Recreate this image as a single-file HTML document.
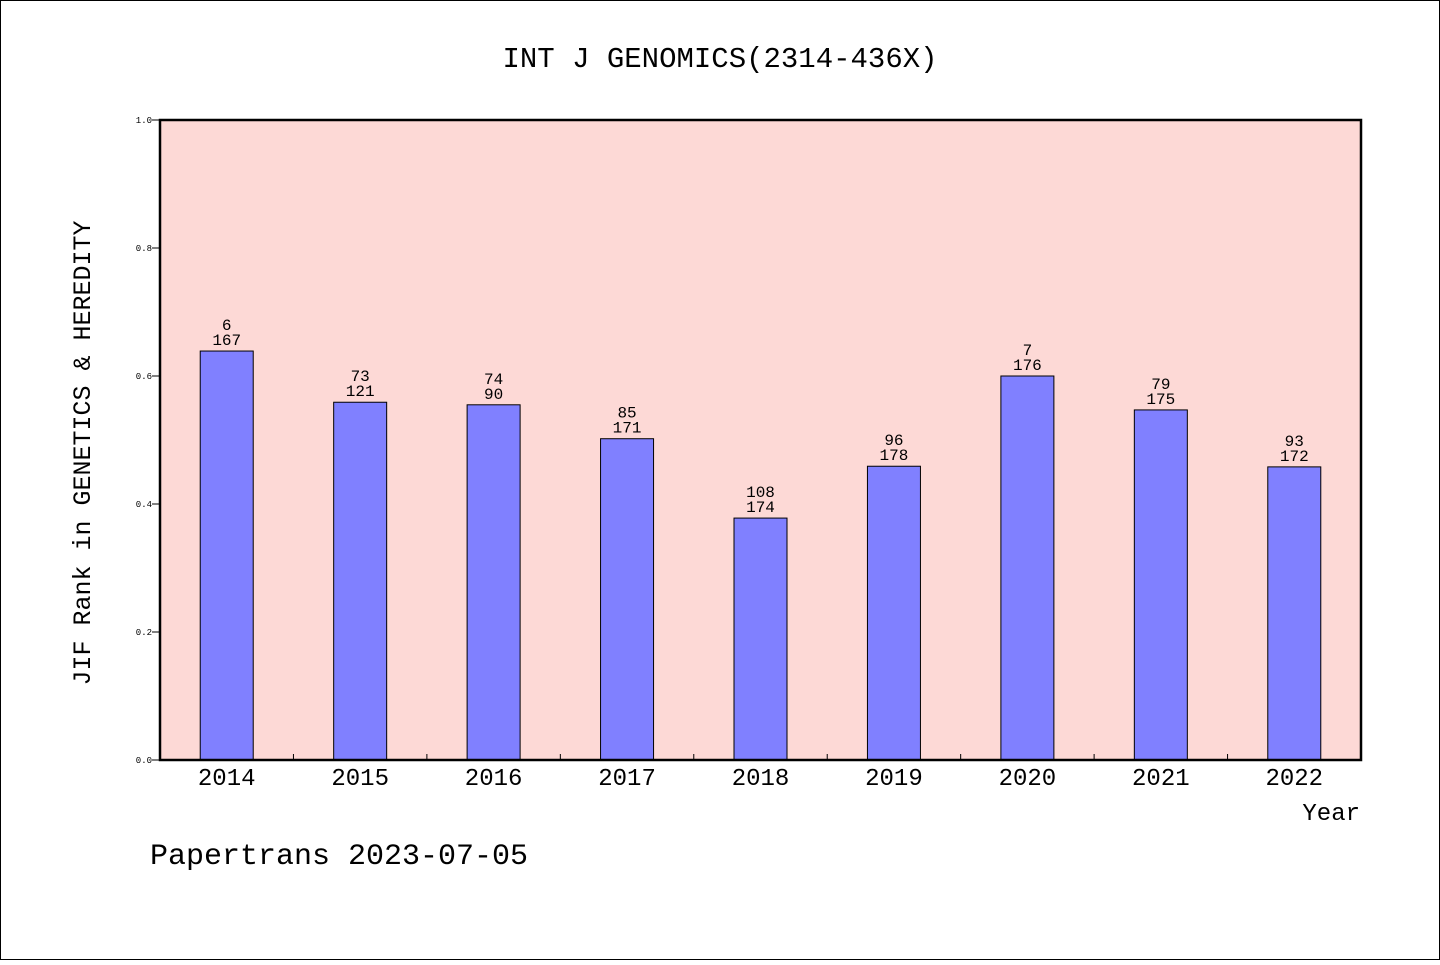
<!DOCTYPE html>
<html><head><meta charset="utf-8"><style>
body{margin:0;background:#fff}
svg text{font-family:"Liberation Mono","Noto Sans CJK SC",monospace;fill:#000}
</style></head><body>
<svg width="1440" height="960" xmlns="http://www.w3.org/2000/svg">
<rect x="0.5" y="0.5" width="1439" height="959" fill="#fff" stroke="#000"/>
<text x="720" y="67" font-size="29" text-anchor="middle">INT J GENOMICS(2314-436X)</text>
<rect x="160" y="120" width="1201" height="640" fill="#fdd9d6"/>
<g id="ticks"></g>
<g id="bars"></g>
<rect x="160" y="120" width="1201" height="640" fill="none" stroke="#000" stroke-width="2.5"/>
<text transform="translate(90,453) rotate(-90)" font-size="25" text-anchor="middle">JIF Rank in GENETICS &amp; HEREDITY</text>
<text x="1360" y="820" font-size="24" text-anchor="end">Year</text>
<text x="150" y="864" font-size="30">Papertrans 2023-07-05</text>
</svg>
<script>
const years=["2014","2015","2016","2017","2018","2019","2020","2021","2022"];
const values=[0.639,0.559,0.555,0.502,0.378,0.459,0.600,0.547,0.458];
const ranks=["6","73","74","85","108","96","7","79","93"];
const totals=["167","121","90","171","174","178","176","175","172"];
const yTicks=[0,0.2,0.4,0.6,0.8,1.0];
const NS="http://www.w3.org/2000/svg";
const X0=160,X1=1361,Y0=760,Y1=120;
const step=(X1-X0)/years.length;
const y=v=>Y0-(Y0-Y1)*v;
const xc=i=>X0+step*(i+0.5);
function mk(t,a,p){const e=document.createElementNS(NS,t);for(const k in a)e.setAttribute(k,a[k]);p.appendChild(e);return e;}
const tg=document.getElementById('ticks'),bg=document.getElementById('bars');
yTicks.forEach(v=>{
 const l=mk('line',{x1:X0-8,x2:X0,y1:y(v),y2:y(v),stroke:'#000'},tg);
 
 
 const t=mk('text',{x:X0-8,y:y(v)+3,'font-size':9,'text-anchor':'end'},tg);
 t.textContent=v.toFixed(1);
 
 
});
for(let i=1;i<years.length;i++){
 const l=mk('line',{x1:X0+step*i,x2:X0+step*i,y1:Y0,y2:Y0-6,stroke:'#000'},tg);
 
 
}
years.forEach((yr,i)=>{
 const bw=53;
 const r=mk('rect',{x:xc(i)-bw/2,y:y(values[i]),width:bw,height:Y0-y(values[i]),fill:'#8080ff',stroke:'#000','stroke-width':1},bg);
 
 
 const a=mk('text',{x:xc(i),y:y(values[i])-21,'font-size':16,'text-anchor':'middle'},bg);
 a.textContent=ranks[i];
 
 
 const b=mk('text',{x:xc(i),y:y(values[i])-6,'font-size':16,'text-anchor':'middle'},bg);
 b.textContent=totals[i];
 
 
 const t=mk('text',{x:xc(i),y:785,'font-size':24,'text-anchor':'middle'},bg);
 t.textContent=yr;
 
 
});
</script>
</body></html>
